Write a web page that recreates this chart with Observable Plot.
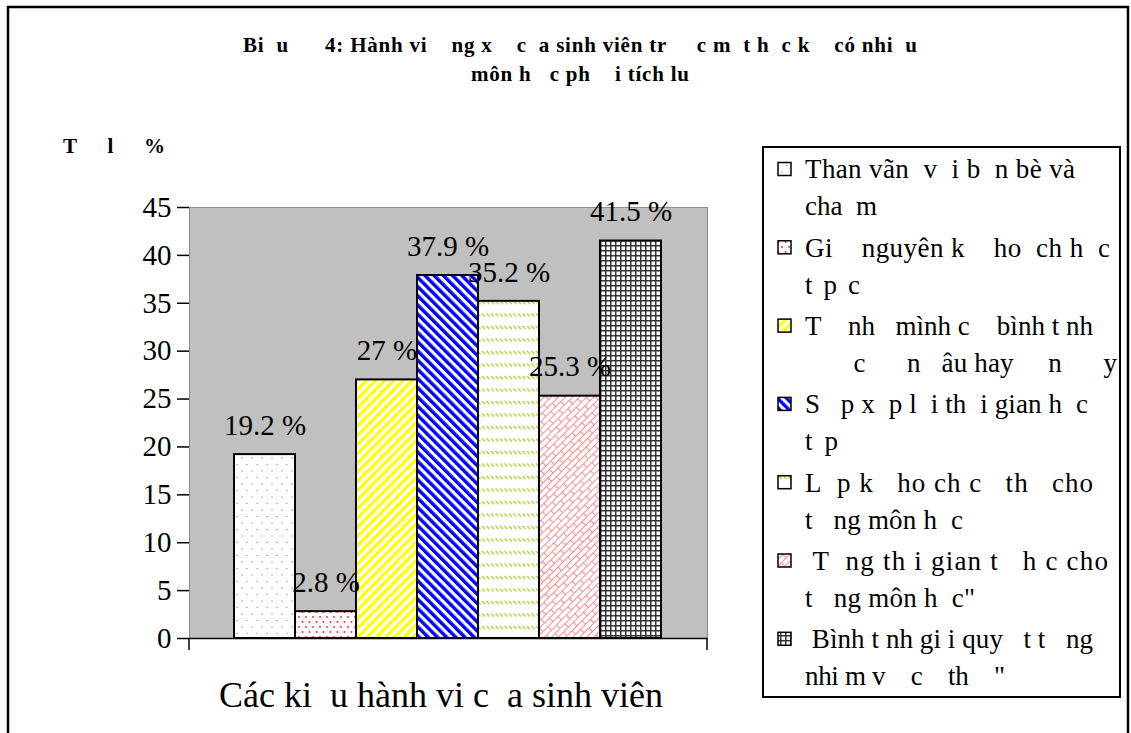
<!DOCTYPE html>
<html>
<head>
<meta charset="utf-8">
<script src="https://cdn.jsdelivr.net/npm/d3@7"></script>
<script src="https://cdn.jsdelivr.net/npm/@observablehq/plot@0.6"></script>
<style>
  html, body { margin: 0; padding: 0; background: #fff; }
  #chart svg text { white-space: pre; }
</style>
</head>
<body>
<div id="chart"></div>
<script>
// Survey shares (%) for each kind of student behaviour
const labelLine1 = [
  "Than vãn  v  i b  n bè và",
  "Gi    nguyên k    ho  ch h  c",
  "T    nh   mình c    bình t nh",
  "S   p x  p l  i th  i gian h  c",
  "L  p k   ho ch c   th   cho",
  " T  ng th i gian t   h c cho",
  " Bình t nh gi i quy   t t   ng"
];
const labelLine2 = [
  "cha  m",
  "t  p  c",
  "       c      n   âu hay     n      y",
  "t  p",
  "t   ng môn h  c",
  "t   ng môn h  c\"",
  "nhi m v    c    th    \""
];
const values = [19.2, 2.8, 27, 37.9, 35.2, 25.3, 41.5];
const yTicks = [0, 5, 10, 15, 20, 25, 30, 35, 40, 45];

const titleLines = [
  "Bi  u      4: Hành vi    ng x    c  a sinh viên tr     c m  t h  c k    có nhi  u",
  "môn h   c ph    i tích lu"
];
const yLabel = "T     l     %";
const xLabel = "Các ki  u hành vi c  a sinh viên";

// Right ends of the legend text lines
const legendEnd1 = [1075, 1110, 1093, 1088, 1093, 1108, 1093];
const legendEnd2 = [877, 860, 1117, 838, 963, 975, 1005];

const serif = "'Liberation Serif', 'Times New Roman', serif";
const W = 1131, H = 733;

const data = values.map((v, i) => ({
  category: labelLine1[i] + " " + labelLine2[i],
  value: v,
  fill: `url(#pat${i})`
}));

const plot = Plot.plot({
  width: W,
  height: H,
  marginLeft: 189,
  marginRight: W - 707,
  marginTop: 207,
  marginBottom: H - 638,
  style: {fontFamily: serif, color: "black", background: "white"},
  x: {domain: data.map(d => d.category), padding: 0, insetLeft: 44, insetRight: 46, axis: null},
  y: {domain: [0, 45], axis: null},
  color: {type: "identity"},
  marks: [
    Plot.frame({fill: "#c0c0c0", stroke: "#8c8c8c"}),
    Plot.barY(data, {x: "category", y: "value", fill: "fill", stroke: "black", strokeWidth: 2}),
    Plot.axisY({ticks: yTicks, tickSize: 12, tickPadding: 6, fontSize: 29, fontFamily: serif, line: true, label: null, strokeWidth: 1.5}),
    Plot.ruleY([0], {stroke: "black", strokeWidth: 1.5}),
    Plot.text(data, {x: "category", y: "value", text: d => `${d.value} %`, dy: -29, fontSize: 29, fontFamily: serif, fill: "black"})
  ]
});

document.getElementById("chart").appendChild(plot);
const svg = d3.select(plot);

// Fill patterns for the bars and legend swatches
const defs = svg.insert("defs", ":first-child");
function pat(id, w, h, transform) {
  const p = defs.append("pattern").attr("id", id).attr("patternUnits", "userSpaceOnUse")
    .attr("width", w).attr("height", h);
  if (transform) p.attr("patternTransform", transform);
  p.append("rect").attr("width", w).attr("height", h).attr("fill", "white");
  return p;
}
let p = pat("pat0", 10, 13);
p.append("circle").attr("cx", 2).attr("cy", 3).attr("r", 0.8).attr("fill", "#9a9aff");
p.append("circle").attr("cx", 7).attr("cy", 9.5).attr("r", 0.8).attr("fill", "#9a9aff");
p = pat("pat1", 7, 10);
p.append("circle").attr("cx", 1.5).attr("cy", 2).attr("r", 0.9).attr("fill", "#ff2020");
p.append("circle").attr("cx", 5).attr("cy", 7).attr("r", 0.9).attr("fill", "#ff2020");
p = pat("pat2", 6.5, 6.5, "rotate(45)");
p.append("rect").attr("width", 3.2).attr("height", 6.5).attr("fill", "#ffff00");
p = pat("pat3", 6.5, 6.5, "rotate(-45)");
p.append("rect").attr("width", 3.4).attr("height", 6.5).attr("fill", "#0000ff");
p = pat("pat4", 4.5, 12.5);
p.append("line").attr("x1", 0.5).attr("y1", 1).attr("x2", 3.5).attr("y2", 4)
  .attr("stroke", "#a6d02a").attr("stroke-width", 1.3);
p = pat("pat5", 14, 10, "rotate(-45)");
p.append("path").attr("d", "M0,0.5H14M0,5.5H14M0.5,0V5.5M7.5,5.5V10")
  .attr("stroke", "#ff8c8c").attr("stroke-width", 1.1).attr("fill", "none");
p = pat("pat6", 5, 5);
p.append("path").attr("d", "M0.75,0V5M0,0.75H5").attr("stroke", "#333").attr("stroke-width", 1.5).attr("fill", "none");

// Category boundary ticks below the baseline
const y0 = plot.scale("y").apply(0);
[189, 707].forEach(x => {
  svg.append("line").attr("x1", x).attr("x2", x).attr("y1", y0).attr("y2", y0 + 12)
    .attr("stroke", "black").attr("stroke-width", 1.5);
});

// Outer border
svg.append("path").attr("d", `M8,${H + 5}V7H1128V${H + 5}`)
  .attr("fill", "none").attr("stroke", "black").attr("stroke-width", 2.5);

// Title
const titleWidths = [674, 218];
titleLines.forEach((t, i) => {
  svg.append("text").attr("x", 580).attr("y", 52 + i * 29).attr("text-anchor", "middle")
    .attr("font-family", serif).attr("font-weight", "bold").attr("font-size", 21)
    .attr("textLength", titleWidths[i]).attr("lengthAdjust", "spacing").text(t);
});

// Axis titles
svg.append("text").attr("x", 63).attr("y", 153).attr("text-anchor", "start").attr("font-family", serif)
  .attr("font-weight", "bold").attr("font-size", 21)
  .attr("textLength", 102).attr("lengthAdjust", "spacing").text(yLabel);
svg.append("text").attr("x", 441).attr("y", 707).attr("text-anchor", "middle")
  .attr("font-family", serif).attr("font-size", 36).text(xLabel);

// Legend
const lg = svg.append("g");
lg.append("rect").attr("x", 763).attr("y", 147).attr("width", 357).attr("height", 550)
  .attr("fill", "white").attr("stroke", "black").attr("stroke-width", 2);
values.forEach((v, i) => {
  const cy = 169 + i * 78.3;
  lg.append("rect").attr("x", 778).attr("y", cy - 6.5).attr("width", 13).attr("height", 13)
    .attr("fill", `url(#pat${i})`).attr("stroke", "black").attr("stroke-width", 1.5);
  [[labelLine1[i], legendEnd1[i]], [labelLine2[i], legendEnd2[i]]].forEach(([t, end], j) => {
    lg.append("text").attr("x", 805).attr("y", cy + j * 37).attr("dy", "0.35em")
      .attr("text-anchor", "start").attr("font-family", serif).attr("font-size", 27)
      .attr("textLength", end - 805).attr("lengthAdjust", "spacing").text(t);
  });
});
</script>
</body>
</html>
